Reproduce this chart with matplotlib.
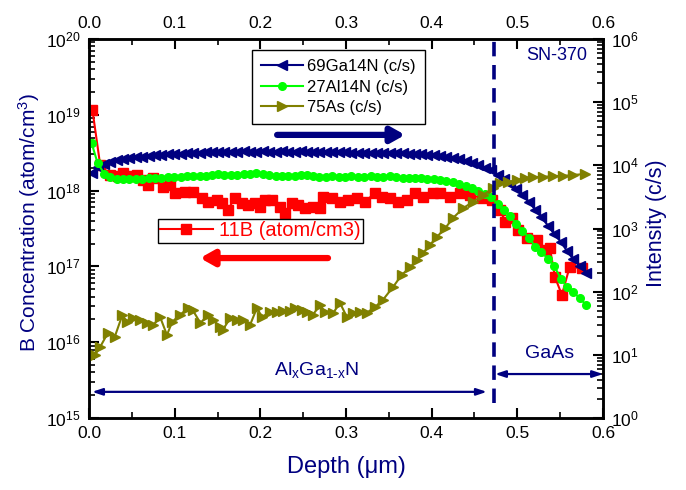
import numpy as np
import matplotlib
matplotlib.use("Agg")
import matplotlib.pyplot as plt
from matplotlib.ticker import LogLocator, NullFormatter, MultipleLocator, LogFormatterSciNotation
from matplotlib.lines import Line2D

plt.rcParams['font.family'] = ['Liberation Sans', 'DejaVu Sans']
plt.rcParams['mathtext.fontset'] = 'custom'
plt.rcParams['mathtext.rm'] = 'Liberation Sans'
plt.rcParams['mathtext.it'] = 'Liberation Sans:italic'
plt.rcParams['mathtext.bf'] = 'Liberation Sans:bold'
plt.rcParams['mathtext.default'] = 'regular'

NAVY = '#000080'
LIME = '#00ff00'
OLIVE = '#808000'
RED = '#ff0000'

# ---------------- data ----------------
grid_depth = [0.003, 0.010, 0.018, 0.025, 0.033, 0.040, 0.047, 0.055, 0.062, 0.070,
              0.077, 0.084, 0.092, 0.099, 0.107, 0.114, 0.121, 0.129, 0.136, 0.144,
              0.151, 0.158, 0.166, 0.173, 0.181, 0.188, 0.195, 0.203, 0.210, 0.218,
              0.225, 0.232, 0.240, 0.247, 0.255, 0.262, 0.269, 0.277, 0.284, 0.292,
              0.299, 0.306, 0.314, 0.321, 0.329, 0.336, 0.343, 0.351, 0.358, 0.366,
              0.373, 0.380, 0.388, 0.395, 0.403, 0.410, 0.417, 0.425, 0.432, 0.440,
              0.447, 0.454, 0.462, 0.469, 0.477, 0.484, 0.491, 0.499, 0.506, 0.514,
              0.521, 0.528, 0.536, 0.543, 0.551, 0.558, 0.565, 0.573, 0.580]

ga_cps = [7600, 9400, 10500, 11300, 12000, 12700, 13200, 13500, 13700, 14200,
          14500, 14700, 15000, 15300, 15300, 15600, 15800, 15800, 16100, 16100,
          16400, 16300, 16500, 16400, 16600, 16400, 16500, 16700, 16500, 16400,
          16600, 16500, 16400, 16600, 16400, 16300, 16500, 16200, 16100, 16000,
          16100, 15900, 15800, 15900, 15700, 15600, 15700, 15500, 15400, 15500,
          15300, 15300, 15000, 14700, 14500, 14200, 13700, 13200, 12500, 11800,
          10900, 10100, 9200, 8300, 7150, 6080, 5070, 4220, 3390, 2620,
          1960, 1520, 1100, 820, 610, 440, 330, 255, 200]

al_cps = [22600, 10900, 7300, 6530, 6180, 6080, 6080, 6080, 6180, 6300,
          6300, 6410, 6530, 6530, 6650, 6780, 6780, 6900, 6900, 7030,
          7160, 7030, 7030, 7030, 7160, 7290, 7430, 7160, 7030, 6900,
          6780, 6780, 6900, 7030, 7030, 6780, 6650, 6650, 6780, 6650,
          6530, 6780, 6650, 6530, 6780, 6530, 6530, 6900, 6530, 6410,
          6410, 6300, 6300, 6180, 6080, 5870, 5650, 5350, 5070, 4710,
          4380, 3930, 3520, 3160, 2440, 1960, 1580, 1180, 910, 710,
          510, 425, 330, 255, 159, 119, 99, 79, 62]

as_depth = [0.007, 0.013, 0.022, 0.030, 0.039, 0.044, 0.051, 0.060, 0.068, 0.075,
            0.083, 0.091, 0.097, 0.106, 0.116, 0.121, 0.130, 0.139, 0.145, 0.153,
            0.156, 0.165, 0.173, 0.180, 0.188, 0.196, 0.202, 0.211, 0.219, 0.226,
            0.235, 0.240, 0.249, 0.254, 0.261, 0.270, 0.275, 0.285, 0.293, 0.301,
            0.308, 0.316, 0.324, 0.334, 0.343, 0.355, 0.365, 0.375, 0.383, 0.390,
            0.398, 0.406, 0.416, 0.425, 0.437, 0.448, 0.460, 0.472, 0.480, 0.489,
            0.500, 0.509, 0.518, 0.530, 0.542, 0.553, 0.565, 0.579]
as_cps = [10.0, 13.3, 22.2, 19.2, 42.8, 33.1, 38.3, 35.6, 31.9, 29.7,
          39.7, 20.6, 33.1, 42.8, 55.2, 51.3, 31.9, 42.8, 35.6, 27.6,
          24.7, 38.3, 35.6, 35.6, 29.7, 55.2, 39.7, 47.7, 47.7, 49.5,
          49.5, 55.2, 51.3, 47.7, 42.8, 61.5, 47.7, 46.0, 66.2, 39.7,
          46.0, 47.7, 46.0, 57.3, 73.9, 119, 184, 246, 317, 410,
          548, 734, 1020, 1470, 2110, 2630, 3390, 4380, 5250, 5450,
          5870, 6310, 6540, 6540, 6780, 6780, 7030, 7290]

b_depth = [0.004, 0.013, 0.025, 0.034, 0.040, 0.048, 0.056, 0.063, 0.069, 0.075,
           0.086, 0.095, 0.100, 0.112, 0.121, 0.132, 0.139, 0.149, 0.155, 0.162,
           0.170, 0.179, 0.186, 0.194, 0.200, 0.205, 0.214, 0.223, 0.229, 0.237,
           0.244, 0.252, 0.261, 0.270, 0.273, 0.284, 0.293, 0.302, 0.313, 0.322,
           0.334, 0.342, 0.351, 0.361, 0.371, 0.381, 0.390, 0.402, 0.410, 0.421,
           0.433, 0.445, 0.459, 0.470, 0.480, 0.486, 0.494, 0.501, 0.511, 0.523,
           0.532, 0.538, 0.544, 0.552, 0.561, 0.575]
b_conc = [1.16e19, 2.2e18, 1.6e18, 1.56e18, 1.7e18, 1.56e18, 1.6e18, 1.38e18, 1.19e18, 1.47e18,
          1.11e18, 1.19e18, 9.3e17, 9.6e17, 9.6e17, 8.0e17, 7.1e17, 7.5e17, 6.9e17, 5.5e17,
          8.0e17, 6.9e17, 6.5e17, 6.9e17, 6.1e17, 7.5e17, 7.5e17, 6.1e17, 5.1e17, 6.9e17,
          6.5e17, 5.9e17, 6.1e17, 5.9e17, 8.2e17, 8.0e17, 7.1e17, 7.5e17, 8.0e17, 7.1e17,
          9.3e17, 8.2e17, 8.0e17, 7.1e17, 7.5e17, 9.3e17, 8.2e17, 9.3e17, 9.3e17, 8.2e17,
          9.3e17, 8.7e17, 8.0e17, 7.5e17, 5.5e17, 3.9e17, 4.4e17, 3.0e17, 2.4e17, 2.2e17,
          1.65e17, 1.75e17, 7.2e16, 4.2e16, 9.8e16, 9.5e16]

interface_depth = 0.473
x_ticks = [0.0, 0.1, 0.2, 0.3, 0.4, 0.5, 0.6]
series_labels = ['69Ga14N (c/s)', '27Al14N (c/s)', '75As (c/s)']
b_label = '11B (atom/cm3)'

# ---------------- figure ----------------
fig = plt.figure(figsize=(6.86, 4.90), dpi=100)
ax = fig.add_axes([89/686, 1-418/490, 514/686, 379/490])
ax2 = ax.twinx()

ax.plot(b_depth, b_conc, color=RED, lw=1.5, marker='s', ms=6.5, mec=RED, mfc=RED)

l_ga, = ax2.plot(grid_depth, ga_cps, color=NAVY, lw=1.5, marker='<', ms=7.5, mec=NAVY, mfc=NAVY)
l_al, = ax2.plot(grid_depth, al_cps, color=LIME, lw=1.5, marker='o', ms=5.5, mec=LIME, mfc=LIME)
l_as, = ax2.plot(as_depth, as_cps, color=OLIVE, lw=1.5, marker='>', ms=6.5, mec=OLIVE, mfc=OLIVE)

ax.set_xlim(0, 0.6)
ax.set_yscale('log')
ax.set_ylim(1e15, 1e20)
ax2.set_yscale('log')
ax2.set_ylim(1, 1e6)

for a in (ax, ax2):
    for s in a.spines.values():
        s.set_linewidth(1.8)

ax.set_xticks(x_ticks)
ax.set_xticklabels([f'{v:.1f}' for v in x_ticks])
ax.xaxis.set_minor_locator(MultipleLocator(0.05))
ax.yaxis.set_major_locator(LogLocator(base=10, numticks=20))
ax.yaxis.set_minor_locator(LogLocator(base=10, subs=np.arange(2, 10), numticks=100))
ax.yaxis.set_minor_formatter(NullFormatter())
ax.yaxis.set_major_formatter(LogFormatterSciNotation())
ax2.yaxis.set_major_locator(LogLocator(base=10, numticks=20))
ax2.yaxis.set_minor_locator(LogLocator(base=10, subs=np.arange(2, 10), numticks=100))
ax2.yaxis.set_minor_formatter(NullFormatter())
ax2.yaxis.set_major_formatter(LogFormatterSciNotation())

ax.tick_params(axis='x', which='both', direction='in', top=True, labeltop=True, bottom=True)
ax.tick_params(axis='y', which='both', direction='in', left=True, right=False)
ax.tick_params(which='major', length=7, width=1.5, labelsize=12.5, pad=6)
ax.tick_params(which='minor', length=4, width=1.2)
ax2.tick_params(axis='y', which='both', direction='in', right=True, left=False)
ax2.tick_params(which='major', length=7, width=1.5, labelsize=12.5, pad=6)
ax2.tick_params(which='minor', length=4, width=1.2)

ax.set_xlabel('Depth (\u03bcm)', fontsize=17, color=NAVY)
ax.xaxis.set_label_coords(0.5, -0.10)
ax.set_ylabel('B Concentration (atom/cm$^3$)', fontsize=15, color=NAVY)
ax.yaxis.set_label_coords(-0.092, 0.515)
ax2.set_ylabel('Intensity (c/s)', fontsize=15.5, color=NAVY)
ax2.yaxis.set_label_coords(1.084, 0.515)

# interface line
ax2.axvline(interface_depth, ymin=0.04, ymax=1, color=NAVY, lw=2.6, dashes=(4, 2.4))

# arrows
ax2.annotate('', xy=(0.615, 0.747), xytext=(0.366, 0.747), xycoords='axes fraction',
             textcoords='axes fraction',
             arrowprops=dict(arrowstyle='-|>,head_length=0.8,head_width=0.45', lw=4.5,
                             color=NAVY, shrinkA=0, shrinkB=0))
ax2.annotate('', xy=(0.216, 0.422), xytext=(0.465, 0.422), xycoords='axes fraction',
             textcoords='axes fraction',
             arrowprops=dict(arrowstyle='-|>,head_length=0.8,head_width=0.45', lw=4.5,
                             color=RED, shrinkA=0, shrinkB=0))
ax2.annotate('', xy=(0.006, 0.069), xytext=(0.774, 0.069), xycoords='axes fraction',
             textcoords='axes fraction',
             arrowprops=dict(arrowstyle='<|-|>,head_length=0.6,head_width=0.2', lw=1.6,
                             color=NAVY, shrinkA=0, shrinkB=0))
ax2.annotate('', xy=(0.790, 0.116), xytext=(1.0, 0.116), xycoords='axes fraction',
             textcoords='axes fraction',
             arrowprops=dict(arrowstyle='<|-|>,head_length=0.6,head_width=0.2', lw=1.6,
                             color=NAVY, shrinkA=0, shrinkB=0))

ax2.text(0.442, 0.127, 'Al$_x$Ga$_{1\u2011x}$N', transform=ax2.transAxes, fontsize=14,
         color=NAVY, ha='center', va='center')
ax2.text(0.897, 0.169, 'GaAs', transform=ax2.transAxes, fontsize=14, color=NAVY,
         ha='center', va='center')
ax2.text(0.969, 0.979, 'SN-370', transform=ax2.transAxes, fontsize=13, color=NAVY,
         ha='right', va='top')

leg1 = ax2.legend([l_ga, l_al, l_as], series_labels, loc='upper left',
                  bbox_to_anchor=(0.317, 0.971), borderaxespad=0, fontsize=12,
                  frameon=True, fancybox=False, edgecolor='black', framealpha=1,
                  handlelength=2.5, handletextpad=0.25, labelspacing=0.33, borderpad=0.55)
leg1.get_frame().set_linewidth(1.0)
ax2.add_artist(leg1)

b_handle = Line2D([], [], color=RED, lw=1.5, marker='s', ms=6.5, mec=RED, mfc=RED)
leg2 = ax2.legend([b_handle], [b_label], loc='upper left', bbox_to_anchor=(0.134, 0.525),
                  borderaxespad=0, fontsize=14.5, labelcolor=RED, frameon=True, fancybox=False,
                  edgecolor='black', framealpha=1, handlelength=2.6, handletextpad=0.3,
                  borderpad=0.12)
leg2.get_frame().set_linewidth(1.0)

fig.savefig('out.png', dpi=100)
